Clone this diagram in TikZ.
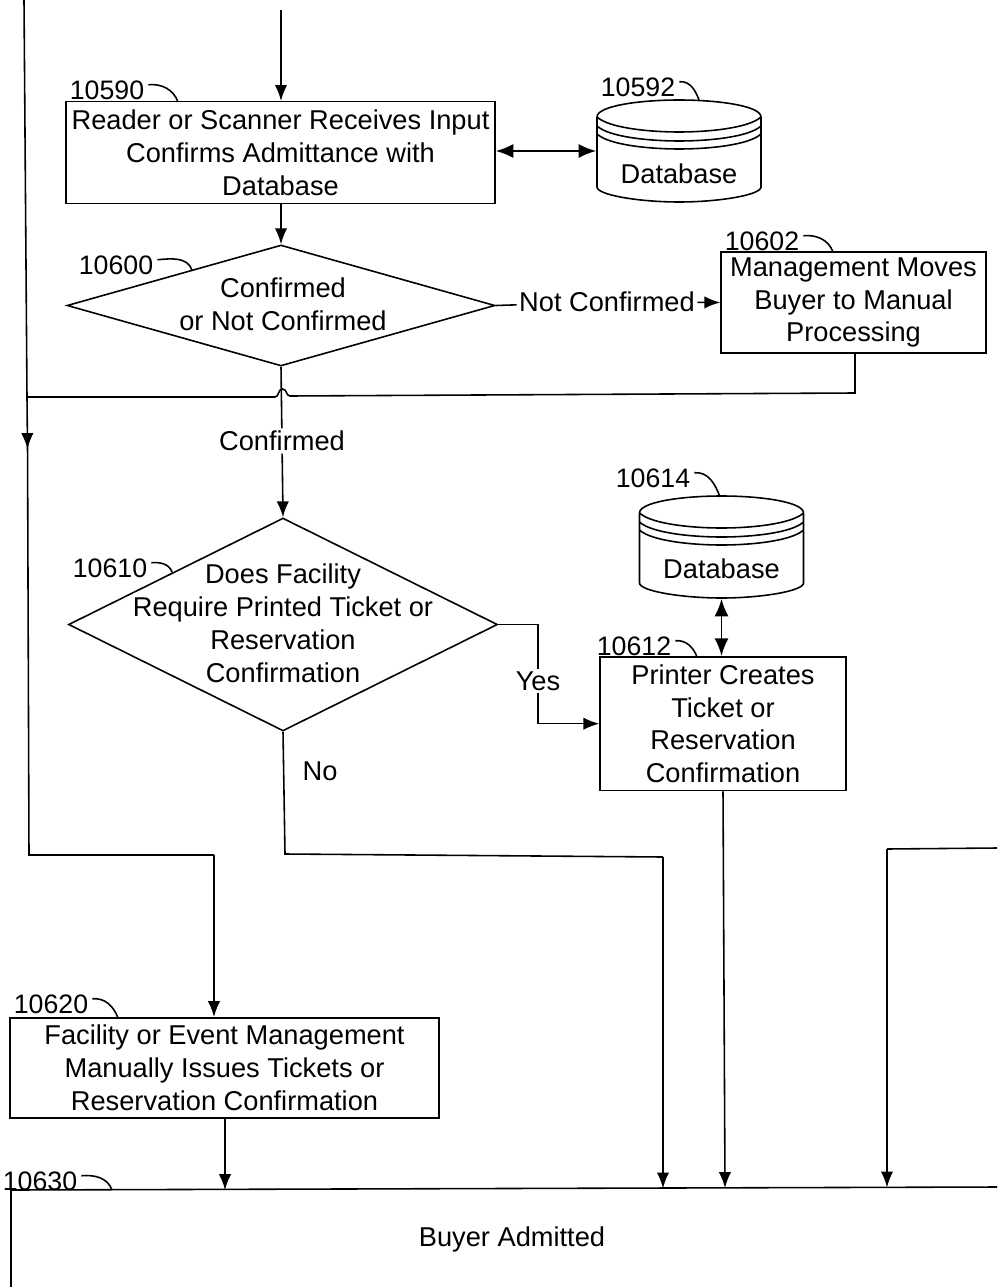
\documentclass[tikz,border=0pt]{standalone}
\usepackage{fontspec}
\setmainfont{Liberation Sans}
\usetikzlibrary{positioning,arrows.meta,shapes.geometric,calc}

\newcommand{\dbdrum}[2]{%
  \node[drum] (#1) at (#2) {};
  \draw[shift={(#2)}] (-82,-34) .. controls (-82,-45) and (-40,-51) .. (0,-51)
    .. controls (40,-51) and (82,-45) .. (82,-34) -- (82,36)
    .. controls (82,44) and (40,51) .. (0,51)
    .. controls (-40,51) and (-82,44) .. (-82,36) -- cycle;
  \foreach \off in {0,9,17} {
    \draw[shift={(#2)}] (-82,-34+\off) .. controls (-70,-23+\off) and (-30,-19+\off) .. (0,-19+\off)
      .. controls (30,-19+\off) and (70,-23+\off) .. (82,-34+\off);
  }
}
\newcommand{\refhook}[2]{\draw ([xshift=2pt,yshift=3pt]#1.east) to[out=5,in=110] (#2);}

\begin{document}
\begin{tikzpicture}[
    x=0.02cm, y=-0.02cm,
    >={Latex[length=9pt,width=7pt]},
    line width=0.9pt,
    txt/.style={font=\fontsize{15.5}{18.7}\selectfont, align=center, inner sep=1pt},
    box/.style={txt, rectangle, draw},
    decision/.style={diamond, draw, inner sep=0pt},
    drum/.style={rectangle, minimum width=3.28cm, minimum height=2.04cm, inner sep=0pt},
    ref/.style={font=\fontsize{15.2}{18.7}\selectfont, inner sep=0pt},
    both/.style={<->, >={Latex[length=10pt,width=8pt]}, line width=1.1pt}
]
\useasboundingbox (0,0) rectangle (997,1287);

% Free ends of the lines that leave the sheet
\coordinate (topIn) at (281,10);
\coordinate (topLeft) at (24,0);
\coordinate (joinL) at (27,397);
\coordinate (turnL) at (29,855);
\coordinate (rightIn) at (997,848);

% === Top row ===
\node[box, minimum width=8.58cm, minimum height=2.04cm] (b10590) at (280.5,152.7)
  {Reader or Scanner Receives Input\\Confirms Admittance with\\Database};
\dbdrum{db10592}{679,151}
\node[txt] (t10592) at (679,174) {Database};

% === Confirmed decision ===
\node[decision, minimum width=8.56cm, minimum height=2.42cm] (d10600) at (281,305.5) {};
\node[txt] (t10600) at (283,304) {Confirmed\\or Not Confirmed};
\node[box, minimum width=5.3cm, minimum height=2.02cm] (b10602) at (853.5,302.5)
  {Management Moves\\Buyer to Manual\\Processing};
\node[txt] (lNot) at (607,302) {Not Confirmed};
\node[txt] (lConf) at (282,441) {Confirmed};

% === Printed ticket decision ===
\node[decision, minimum width=8.58cm, minimum height=4.26cm] (d10610) at (283,624.5) {};
\node[txt] (t10610) at (283,623)
  {Does Facility\\Require Printed Ticket or\\Reservation\\Confirmation};
\dbdrum{db10614}{721.5,547}
\node[txt] (t10614) at (721.5,569) {Database};
\node[box, minimum width=4.92cm, minimum height=2.68cm] (b10612) at (723,723.7)
  {Printer Creates\\Ticket or\\Reservation\\Confirmation};
\node[txt] (lYes) at (538,681) {Yes};
\node[txt] (lNo) at (320,771) {No};

% === Manual issue ===
\node[box, minimum width=8.58cm, minimum height=2cm] (b10620) at (224.5,1067.8)
  {Facility or Event Management\\Manually Issues Tickets or\\Reservation Confirmation};

% === Buyer admitted, runs off the sheet ===
\coordinate (adLB) at (11,1287);
\coordinate (adLT) at (11,1190);
\coordinate (adRT) at (997,1187);
\draw (adLB) -- (adLT) -- (adRT);
\node[txt] (t10630) at (512,1239) {Buyer Admitted};
\coordinate (in225) at (225,1190);
\coordinate (in663) at (663,1188.4);
\coordinate (in725) at (725,1188);
\coordinate (in887) at (887,1187.4);

% Connectors
\draw[->] (topIn) -- (b10590.north -| topIn);
\draw[both] (b10590.east |- db10592.west) -- (db10592.west);
\draw[->] (b10590.south -| d10600.north) -- (d10600.north);
\draw (d10600.east) -- (lNot);
\draw[->] (lNot) -- (b10602.west);

% Return line with the hop over the centre line
\coordinate (retR) at (855,393);
\coordinate (hopR) at (290,396);
\coordinate (hopL) at (275,397);
\draw (b10602.south -| retR) -- (retR) -- (hopR)
  .. controls (286,396) and (287,389) .. (282.5,389)
  .. controls (278,389) and (279,397) .. (hopL) -- (joinL);
\draw (topLeft) -- (joinL);
\coordinate (arrL) at (27.5,449);
\coordinate (arrS) at (27.5,440);
\draw[->] (joinL) -- (arrL);
\coordinate (inL) at (214,855);
\draw (arrS) -- (turnL) -- (inL);
\draw[->] (inL) -- (b10620.north -| inL);

\draw (d10600.south) -- (lConf);
\draw[->] (lConf) -- (d10610.north);
\draw (d10610.east) -| (lYes);
\draw[->] (lYes) |- (b10612.west);
\draw[both] (db10614.south) -- (b10612.north -| db10614.south);

% Lines down to the admitted box
\coordinate (noL) at (285,854);
\coordinate (noR) at (663,857);
\draw (d10610.south) -- (noL) -- (noR);
\draw[->] (noR) -- (in663);
\draw[->] (b10612.south) -- (in725);
\coordinate (rightT) at (887,849);
\draw (rightIn) -- (rightT);
\draw[->] (rightT) -- (in887);
\draw[->] (b10620.south -| in225) -- (in225);

% Reference numbers
\node[ref] (r10590) at (107,90) {10590};
\node[ref] (r10592) at (638,87) {10592};
\node[ref] (r10602) at (762,241) {10602};
\node[ref] (r10600) at (116,265) {10600};
\node[ref] (r10610) at (110,568) {10610};
\node[ref] (r10614) at (653,478) {10614};
\node[ref] (r10612) at (634,646) {10612};
\node[ref] (r10620) at (51,1004) {10620};
\node[ref] (r10630) at (40,1181) {10630};
\coordinate (h10590) at (178,102);
\coordinate (h10592) at (699,100);
\coordinate (h10602) at (833,252);
\coordinate (h10600) at (192,270);
\coordinate (h10610) at (172,572);
\coordinate (h10614) at (720,497);
\coordinate (h10612) at (697,657);
\coordinate (h10620) at (118,1018);
\coordinate (h10630) at (112,1190);
\refhook{r10590}{h10590}
\refhook{r10592}{h10592}
\refhook{r10602}{h10602}
\refhook{r10600}{h10600}
\refhook{r10610}{h10610}
\refhook{r10614}{h10614}
\refhook{r10612}{h10612}
\refhook{r10620}{h10620}
\refhook{r10630}{h10630}
\end{tikzpicture}
\end{document}
